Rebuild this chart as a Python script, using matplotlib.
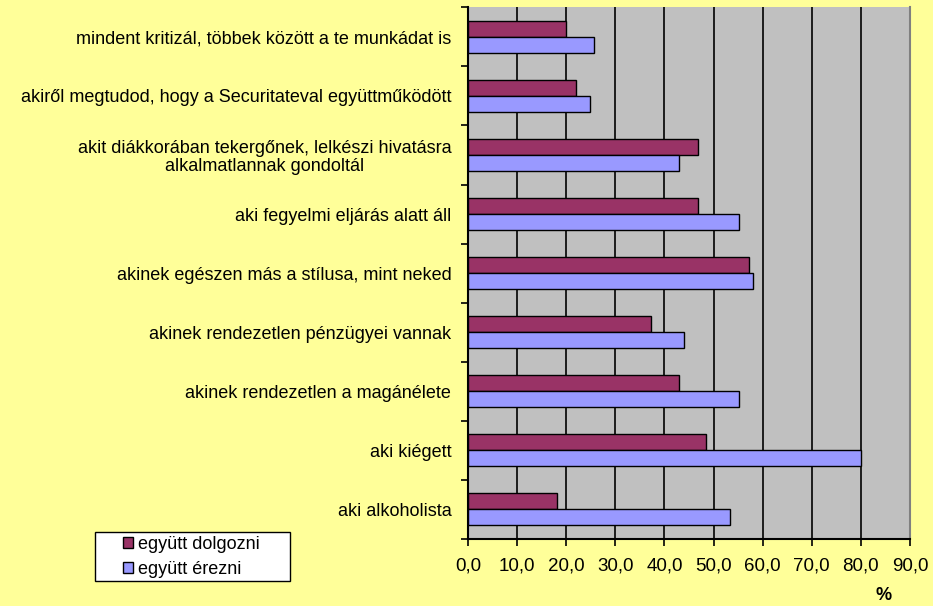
import numpy as np
import matplotlib.pyplot as plt
from matplotlib.patches import Rectangle

plt.rcParams['font.family'] = ['Liberation Sans', 'DejaVu Sans']

categories = [
    "mindent kritizál, többek között a te munkádat is",
    "akiről megtudod, hogy a Securitateval együttműködött",
    "akit diákkorában tekergőnek, lelkészi hivatásra\nalkalmatlannak gondoltál",
    "aki fegyelmi eljárás alatt áll",
    "akinek egészen más a stílusa, mint neked",
    "akinek rendezetlen pénzügyei vannak",
    "akinek rendezetlen a magánélete",
    "aki kiégett",
    "aki alkoholista",
]
dolgozni = [19.9, 21.9, 46.8, 46.8, 57.2, 37.2, 43.0, 48.5, 18.2]
erezni = [25.7, 24.8, 43.0, 55.1, 58.0, 43.9, 55.1, 80.0, 53.4]
series_names = ["együtt dolgozni", "együtt érezni"]
xticks = np.arange(0, 100, 10)

bg = '#FFFF99'
fs = 13
fig = plt.figure(figsize=(9.33, 6.06), dpi=100, facecolor=bg)
ax = fig.add_axes([0.5016, 0.1106, 0.4737, 0.8774])
ax.set_facecolor('#C0C0C0')

n = len(categories)
y = np.arange(n)[::-1].astype(float)
h = 0.27
b1 = ax.barh(y + h / 2, dolgozni, height=h, color='#993366', edgecolor='black', linewidth=1, zorder=3)
b2 = ax.barh(y - h / 2, erezni, height=h, color='#9999FF', edgecolor='black', linewidth=1, zorder=3)

ax.set_xlim(0, 90)
ax.set_ylim(-0.5, n - 0.5)
ax.set_xticks(xticks)
ax.set_xticklabels([f"{v:.1f}".replace('.', ',') for v in xticks], fontsize=13.5)
ax.xaxis.grid(True, color='black', linewidth=1.2, zorder=1)
ax.set_axisbelow(True)

# category labels centered on groups, ticks on boundaries
ax.set_yticks(np.arange(n + 1) - 0.5)
ax.set_yticklabels([])
ax.set_yticks(y, minor=True)
ax.set_yticklabels(categories, minor=True, fontsize=fs, ha='right', va='center_baseline',
                   multialignment='center', linespacing=1.1)
ax.tick_params(axis='y', which='minor', length=0, pad=12)
ax.tick_params(axis='y', which='major', length=5, width=1.2, direction='out')
ax.tick_params(axis='x', length=5, width=1.2, direction='out', pad=8)

ax.spines['top'].set_visible(False)
ax.spines['right'].set_color('#808080')
ax.spines['right'].set_linewidth(1.5)
ax.spines['left'].set_linewidth(1.5)
ax.spines['bottom'].set_linewidth(1.5)

fig.text(0.947, 0.004, "%", fontsize=fs, fontweight='bold', ha='center', va='bottom')

# legend box drawn separately
fig.patches.append(Rectangle((0.1018, 0.0413), 0.209, 0.0809, transform=fig.transFigure,
                             facecolor='white', edgecolor='black', linewidth=1, zorder=1))
leg = fig.legend([b1, b2], series_names, loc='center left', bbox_to_anchor=(0.1318, 0.0810),
                 fontsize=fs, frameon=False, borderpad=0, borderaxespad=0,
                 handlelength=0.55, handleheight=0.55, handletextpad=0.3, labelspacing=0.42)
leg.set_zorder(2)

fig.savefig('out.png', dpi=100, facecolor=bg)
